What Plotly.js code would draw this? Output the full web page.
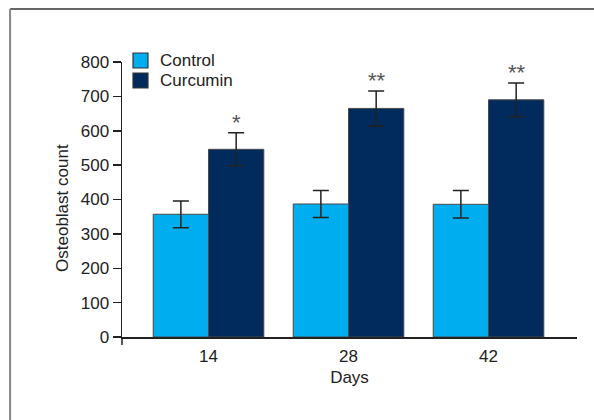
<!DOCTYPE html>
<html>
<head>
<meta charset="utf-8">
<script src="https://cdn.plot.ly/plotly-3.0.1.min.js"></script>
<style>
html,body{margin:0;padding:0;background:#fff;}
#chart{width:594px;height:420px;}
</style>
</head>
<body>
<div id="chart"></div>
<script>
const days = ["14", "28", "42"];
const seriesNames = ["Control", "Curcumin"];
const seriesColors = ["#00ADEE", "#002B5C"];
const controlMean = [357, 387, 386];
const controlErr = [39, 39, 40];
const curcuminMean = [546, 665, 690];
const curcuminErr = [48, 51, 49];
const significance = ["*", "**", "**"];
const xTitle = "Days";
const yTitle = "Osteoblast count";

const FONT = '"Liberation Sans", Arial, sans-serif';
const FS = 17;
const TXT = '#222';

const means = [controlMean, curcuminMean];
const errs = [controlErr, curcuminErr];

const traces = seriesNames.map((name, s) => ({
  type: 'bar', name: name, x: days, y: means[s], showlegend: false,
  marker: {color: seriesColors[s], line: {color: '#4a4a4a', width: 1}},
  error_y: {type: 'data', array: errs[s], visible: true, color: '#222', thickness: 1.5, width: 8}
}));

const annotations = days.map((d, i) => ({
  x: i, y: curcuminMean[i] + curcuminErr[i], xref: 'x', yref: 'y',
  text: significance[i], showarrow: false, xshift: 28,
  yanchor: 'bottom', yshift: -4,
  font: {family: FONT, size: 22, color: '#555'}
}));

// y-axis title (slightly below axis centre, as in the reference)
annotations.push({
  x: -0.132, y: 0.469, xref: 'paper', yref: 'paper', text: yTitle,
  textangle: -90, showarrow: false, xanchor: 'center', yanchor: 'middle',
  font: {family: FONT, size: FS, color: TXT}
});

// legend (drawn as boxes + labels)
const legendShapes = [];
seriesNames.forEach((name, s) => {
  const top = 1.0327 - s * 0.0727;
  legendShapes.push({
    type: 'rect', xref: 'paper', yref: 'paper',
    x0: 0.0242, x1: 0.0571, y0: top - 0.0545, y1: top,
    fillcolor: seriesColors[s], line: {color: '#333', width: 1.2}
  });
  annotations.push({
    x: 0.0791, y: top - 0.0272, xref: 'paper', yref: 'paper', text: name,
    showarrow: false, xanchor: 'left', yanchor: 'middle',
    font: {family: FONT, size: FS, color: TXT}
  });
});

const layout = {
  width: 594, height: 420,
  margin: {l: 122, r: 17, t: 62, b: 83},
  paper_bgcolor: '#fff', plot_bgcolor: '#fff',
  font: {family: FONT, size: FS, color: TXT},
  barmode: 'group', bargap: 0.21, bargroupgap: 0,
  showlegend: false,
  xaxis: {
    type: 'category', range: [-0.618, 2.632],
    showline: true, linecolor: '#222', linewidth: 1.5,
    ticks: 'outside', ticklen: 3, tickcolor: 'rgba(0,0,0,0)',
    showgrid: false, zeroline: false,
    tickfont: {family: FONT, size: FS, color: TXT},
    title: {text: xTitle, font: {family: FONT, size: FS, color: TXT}, standoff: 6}
  },
  yaxis: {
    range: [0, 800], dtick: 100,
    showline: true, linecolor: '#222', linewidth: 1.5,
    ticks: 'outside', ticklen: 8, tickwidth: 1.5, tickcolor: '#222',
    showgrid: false, zeroline: false,
    tickfont: {family: FONT, size: FS, color: TXT}
  },
  annotations: annotations,
  shapes: legendShapes.concat([
    {type: 'line', xref: 'paper', yref: 'paper', x0: 0, x1: 0, y0: 0, y1: -0.029,
     line: {color: '#222', width: 1.5}},
    {type: 'line', xref: 'paper', yref: 'paper', x0: -0.246, x1: 1.04, y0: 1.193, y1: 1.193,
     line: {color: '#333', width: 1.5}},
    {type: 'line', xref: 'paper', yref: 'paper', x0: -0.246, x1: -0.246, y0: 1.193, y1: -0.31,
     line: {color: '#888', width: 2}}
  ])
};

Plotly.newPlot('chart', traces, layout, {staticPlot: true, displayModeBar: false});
</script>
</body>
</html>
